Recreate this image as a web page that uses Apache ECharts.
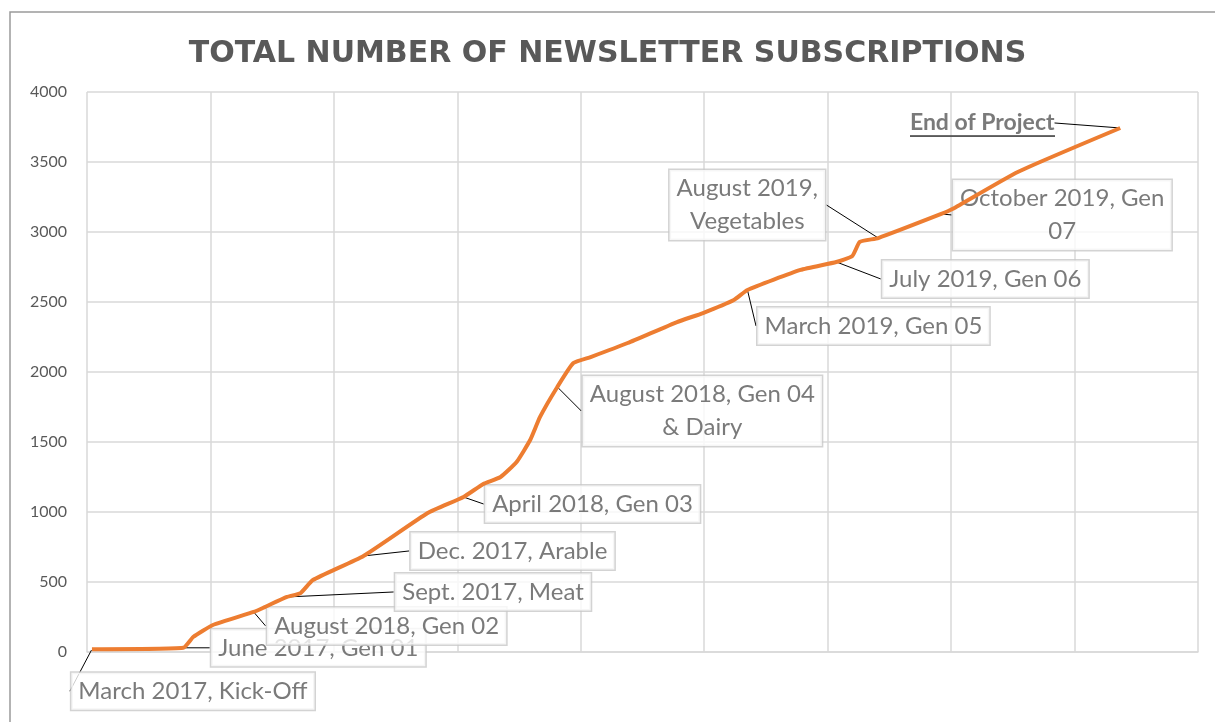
<!DOCTYPE html>
<html>
<head>
<meta charset="utf-8">
<script src="https://cdn.jsdelivr.net/npm/echarts@6/dist/echarts.min.js"></script>
<style>
  html, body { margin: 0; padding: 0; background: #fff; }
  #main { width: 1215px; height: 722px; }
</style>
</head>
<body>
<div id="main"></div>
<script>
// running total of subscriptions, x = position on the (unlabelled) time axis
var lineX = [0.4, 7.8, 8.6, 10.2, 13.5, 14.4, 16.2, 17.3, 18.3, 22.4, 27.6, 30.5, 32.1, 33.5, 34.8, 35.9, 36.7, 38.1,
  39.4, 40.8, 43.8, 47.8, 49.9, 52.4, 53.5, 57.8, 60.7, 62.0, 62.6, 64.1, 69.2, 70.1, 75.4, 83.7];
var lineY = [20, 30, 107, 193, 286, 321, 393, 421, 514, 686, 993, 1107, 1200, 1250, 1357, 1514, 1679, 1893,
  2064, 2107, 2207, 2357, 2421, 2514, 2586, 2729, 2786, 2829, 2929, 2957, 3129, 3164, 3429, 3743];

// milestones marked on the curve
var milestoneNames = ['March 2017, Kick-Off', 'June 2017, Gen 01', 'August 2018, Gen 02', 'Sept. 2017, Meat',
  'Dec. 2017, Arable', 'April 2018, Gen 03', 'August 2018, Gen 04\n& Dairy', 'March 2019, Gen 05',
  'July 2019, Gen 06', 'August 2019,\nVegetables', 'October 2019, Gen\n07', 'End of Project'];
var milestoneX = [0.4, 7.8, 13.5, 16.2, 22.4, 30.5, 38.1, 53.5, 60.7, 64.1, 69.2, 83.7];
var milestoneY = [20, 30, 286, 393, 686, 1107, 1893, 2586, 2786, 2957, 3129, 3743];

// where each callout box sits relative to its point (px)
var calloutOffsets = [[101, 42], [135, 0], [133, 14], [206, -5], [149, -5], [129, 7], [145, 24],
  [126, 36], [149, 17], [-131, -33], [121, 1], [-138, -5]];

var FONT = 'Lato, "Noto Sans", sans-serif';
var GREY = '#595959';

// thin bar at the bottom, stretched under the "End of Project" text as an underline
var ul = document.createElement('canvas');
ul.width = 2; ul.height = 30;
var ctx = ul.getContext('2d');
ctx.fillStyle = GREY;
ctx.fillRect(0, 28, 2, 2);

var lineData = lineX.map(function (x, i) { return [x, lineY[i]]; });
var last = milestoneNames.length - 1;
var milestoneData = milestoneX.map(function (x, i) {
  var item = { name: milestoneNames[i], value: [x, milestoneY[i]] };
  if (i === last) {
    item.label = {
      fontWeight: 'bold', fontSize: 23, backgroundColor: { image: ul }, borderWidth: 0,
      padding: [0, 0, 1, 0], lineHeight: 27
    };
  }
  return item;
});

var chart = echarts.init(document.getElementById('main'));
chart.setOption({
  animation: false,
  title: {
    text: 'TOTAL NUMBER OF NEWSLETTER SUBSCRIPTIONS',
    left: 'center',
    top: 34,
    textStyle: { fontFamily: '"DejaVu Sans", sans-serif', fontSize: 30, fontWeight: 'bold', color: GREY }
  },
  graphic: [{
    type: 'rect', shape: { x: 10, y: 12, width: 1220, height: 730 },
    style: { fill: 'none', stroke: '#9a9a9a', lineWidth: 1.5 }, silent: true
  }],
  grid: { left: 87, right: 17, top: 92, bottom: 70 },
  xAxis: {
    type: 'value', min: 0, max: 90, interval: 10,
    axisLabel: { show: false }, axisTick: { show: false },
    axisLine: { show: true, lineStyle: { color: '#d9d9d9', width: 1.5 } },
    splitLine: { show: true, lineStyle: { color: '#d9d9d9', width: 1.5 } }
  },
  yAxis: {
    type: 'value', min: 0, max: 4000, interval: 500,
    axisLabel: { fontFamily: FONT, fontSize: 16, color: GREY, margin: 20, formatter: function (v) { return String(v); } },
    axisTick: { show: false }, axisLine: { show: false },
    splitLine: { lineStyle: { color: '#d9d9d9', width: 1.5 } }
  },
  series: [
    {
      type: 'line', data: lineData, showSymbol: false, smooth: 0.15, silent: true,
      lineStyle: { color: '#ED7D31', width: 4 }
    },
    {
      type: 'scatter', data: milestoneData, symbolSize: 2, silent: true,
      itemStyle: { color: 'rgba(0,0,0,0)' },
      label: {
        show: true, position: 'inside',
        formatter: '{b}',
        fontFamily: FONT, fontSize: 24, color: GREY, lineHeight: 33,
        backgroundColor: '#fff', borderColor: '#c8c8c8', borderWidth: 1.5,
        padding: [2, 7, 2, 7], align: 'center'
      },
      labelLine: { show: true, lineStyle: { color: '#000', width: 1 } },
      labelLayout: function (p) {
        var o = calloutOffsets[p.dataIndex];
        return {
          x: p.rect.x + p.rect.width / 2 + o[0],
          y: p.rect.y + p.rect.height / 2 + o[1],
          align: 'center', verticalAlign: 'middle'
        };
      }
    }
  ]
});
</script>
</body>
</html>
